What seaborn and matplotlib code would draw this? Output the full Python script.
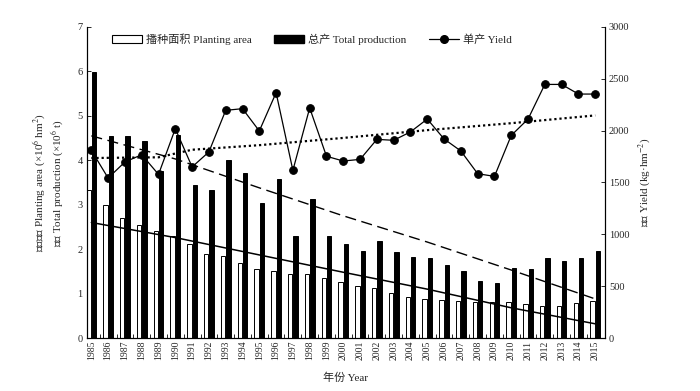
import numpy as np
import pandas as pd
import seaborn as sns
import matplotlib.pyplot as plt
from matplotlib.patches import Patch
from matplotlib.lines import Line2D

# values
years = list(range(1985, 2016))
planting_area = [3.34, 2.99, 2.70, 2.54, 2.41, 2.30, 2.11, 1.89, 1.84, 1.68, 1.55,
                 1.51, 1.45, 1.43, 1.34, 1.27, 1.16, 1.13, 1.02, 0.92, 0.87,
                 0.86, 0.83, 0.81, 0.80, 0.81, 0.76, 0.73, 0.73, 0.78, 0.83]
total_production = [5.99, 4.54, 4.54, 4.43, 3.77, 4.58, 3.44, 3.34, 4.01, 3.71, 3.04,
                    3.57, 2.30, 3.12, 2.30, 2.12, 1.95, 2.18, 1.93, 1.82, 1.79,
                    1.64, 1.50, 1.29, 1.24, 1.58, 1.55, 1.79, 1.74, 1.79, 1.96]
yield_kg = [1810, 1543, 1698, 1768, 1578, 2019, 1650, 1795, 2196, 2212, 1997,
            2366, 1617, 2219, 1753, 1707, 1723, 1916, 1907, 1988, 2112,
            1920, 1804, 1585, 1559, 1954, 2112, 2446, 2446, 2353, 2353]

# trend lines, read at a few years
trend_years = [1985, 1990, 1995, 2000, 2005, 2010, 2015]
area_trend = [2.60, 2.26, 1.87, 1.48, 1.10, 0.68, 0.32]
production_trend = [4.55, 4.03, 3.38, 2.75, 2.16, 1.53, 0.88]
yield_trend_years = [1985, 1989, 1991, 1995, 2000, 2005, 2010, 2015]
yield_trend = [1736, 1743, 1816, 1860, 1930, 2005, 2072, 2147]

area_label = '播种面积 Planting area'
prod_label = '总产 Total production'
yield_label = '单产 Yield'

sns.set_theme(style='ticks')
plt.rcParams['font.family'] = ['Liberation Serif', 'Noto Sans CJK SC']
plt.rcParams['mathtext.fontset'] = 'stix'

df = pd.DataFrame({
    'year': years * 2,
    'value': planting_area + total_production,
    'series': [area_label] * len(years) + [prod_label] * len(years),
})

fig = plt.figure(figsize=(7, 3.91), dpi=100)
ax = fig.add_axes([0.124, 0.1355, 0.74, 0.7955])

sns.barplot(data=df, x='year', y='value', hue='series', hue_order=[area_label, prod_label],
            palette={area_label: 'white', prod_label: 'black'}, native_scale=True,
            width=0.64, gap=0.2, edgecolor='black', linewidth=0.7, legend=False, ax=ax)

ax.plot(trend_years, area_trend, color='black', lw=1.1, zorder=5)
ax.plot(trend_years, production_trend, color='black', lw=1.0, ls=(0, (8, 4)), zorder=5)

ax2 = ax.twinx()
sns.lineplot(x=years, y=yield_kg, ax=ax2, color='black', lw=0.9, marker='o',
             markersize=5.5, markeredgecolor='black')
ax2.plot(yield_trend_years, yield_trend, color='black', lw=1.6, ls=(0, (1, 1.3)))

ax.set_xlim(1984.73, 2015.57)
ax.set_ylim(0, 7)
ax2.set_ylim(0, 3000)
ax.set_yticks(range(0, 8))
ax2.set_yticks(range(0, 3001, 500))

ax.set_xticks(years)
ax.set_xticklabels([str(y) for y in years], rotation=90, fontsize=7)
ax.set_xticks([y + 0.5 for y in years[:-1]], minor=True)
ax.tick_params(axis='x', which='major', length=0, pad=2)
ax.tick_params(axis='x', which='minor', direction='in', length=3, width=0.7)
ax.tick_params(axis='y', direction='in', length=3, width=0.7, labelsize=7.5, pad=3)
ax2.tick_params(axis='y', direction='in', length=3, width=0.7, labelsize=7.5, pad=3)
ax2.tick_params(axis='x', which='both', length=0)

for a in (ax, ax2):
    a.spines['top'].set_visible(False)
    for s in a.spines.values():
        s.set_linewidth(0.8)
        s.set_color('black')

ax.set_xlabel('年份 Year', fontsize=8, labelpad=9)
ax.set_ylabel('播种面积 Planting area (×10$^{6}$ hm$^{2}$)\n总产 Total production (×10$^{6}$ t)',
              fontsize=8, labelpad=8, linespacing=1.2)
ax2.set_ylabel('单产 Yield (kg·hm$^{-2}$)', fontsize=8, labelpad=5)

handles = [Patch(facecolor='white', edgecolor='black', linewidth=0.8),
           Patch(facecolor='black', edgecolor='black'),
           Line2D([], [], color='black', lw=0.9, marker='o', markersize=5.5)]
ax.legend(handles, [area_label, prod_label, yield_label], loc='upper left',
          bbox_to_anchor=(0.035, 1.0), ncol=3, frameon=False, fontsize=8,
          handlelength=2.7, handletextpad=0.4, columnspacing=2.0, borderaxespad=0.2)

fig.savefig('out.png', dpi=100)
